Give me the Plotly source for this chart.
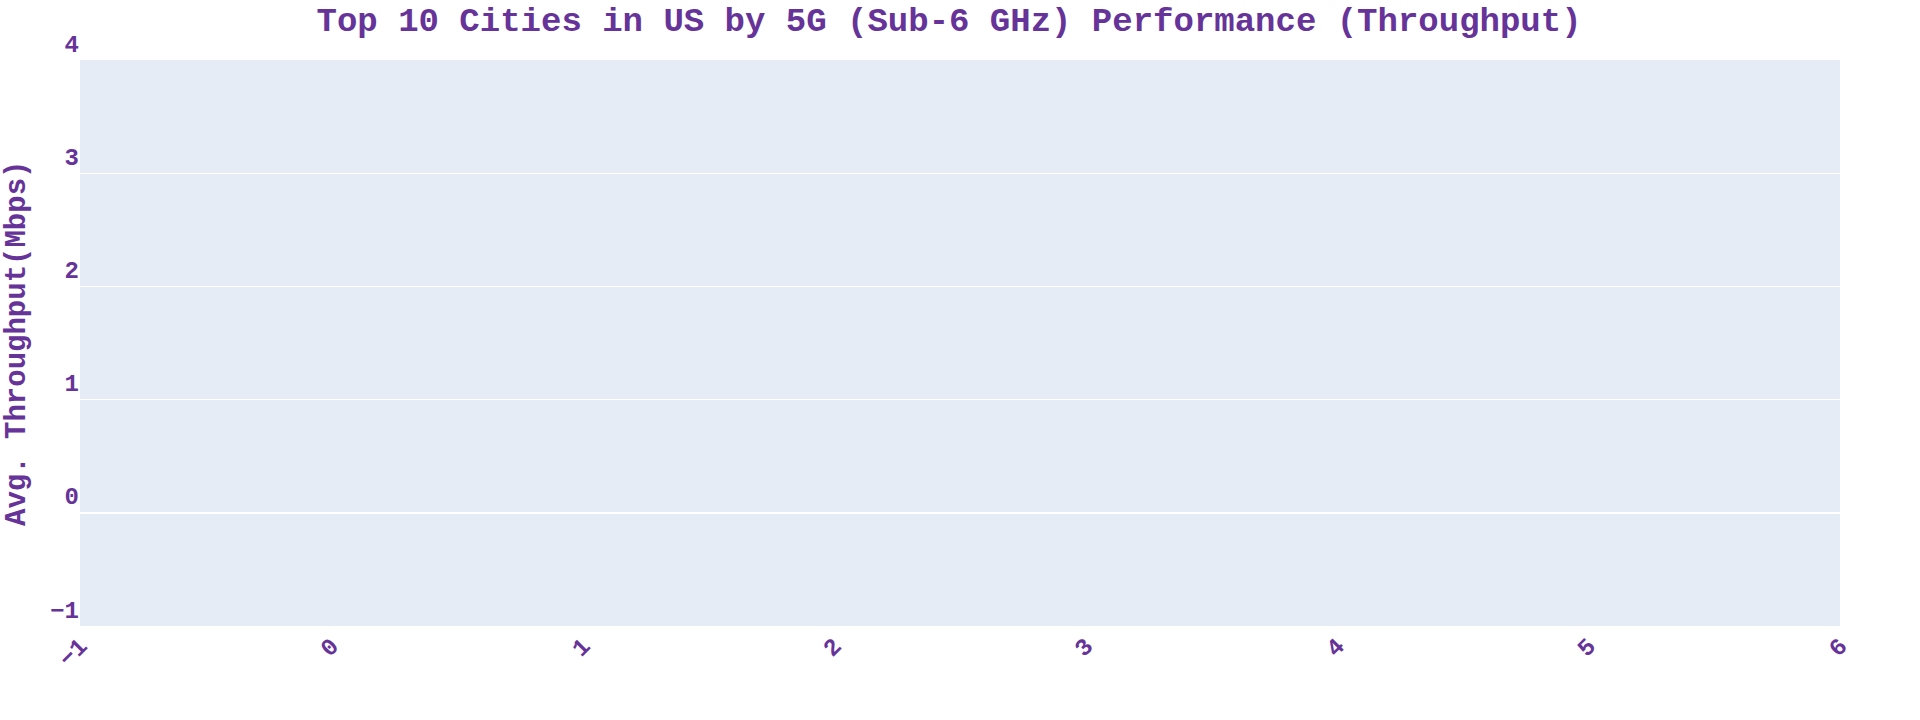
import plotly.graph_objects as go

# The reference chart shows no data marks (empty series)
cities = []
throughput = []

title_text = "Top 10 Cities in US by 5G (Sub-6 GHz) Performance (Throughput)"
y_title = "Avg. Throughput(Mbps)"
purple = "#663399"
FONT = "Liberation Mono"

fig = go.Figure(go.Bar(x=cities, y=throughput, marker_color=purple))

fig.update_layout(
    width=1920, height=720,
    template="plotly",
    margin=dict(l=80, r=80, t=60, b=94),
    title=dict(text=title_text, x=0.4943, xanchor="center", y=0.974, yanchor="middle",
               font=dict(family=FONT, size=34, color=purple, weight="bold")),
    font=dict(family=FONT, color=purple),
    showlegend=False,
)
fig.update_xaxes(tickangle=-45, tickfont=dict(family=FONT, size=24, color=purple, weight="bold"))
fig.update_yaxes(ticklabelposition="outside top",
                 tickfont=dict(family=FONT, size=24, color=purple, weight="bold"))
# y-axis title placed as rotated text left of the tick labels
fig.add_annotation(text=y_title, xref="paper", yref="paper", x=-0.0358, y=0.5,
                   xanchor="center", yanchor="middle", textangle=-90, showarrow=False,
                   font=dict(family=FONT, size=29, color=purple, weight="bold"))

fig.write_html("out.html")
